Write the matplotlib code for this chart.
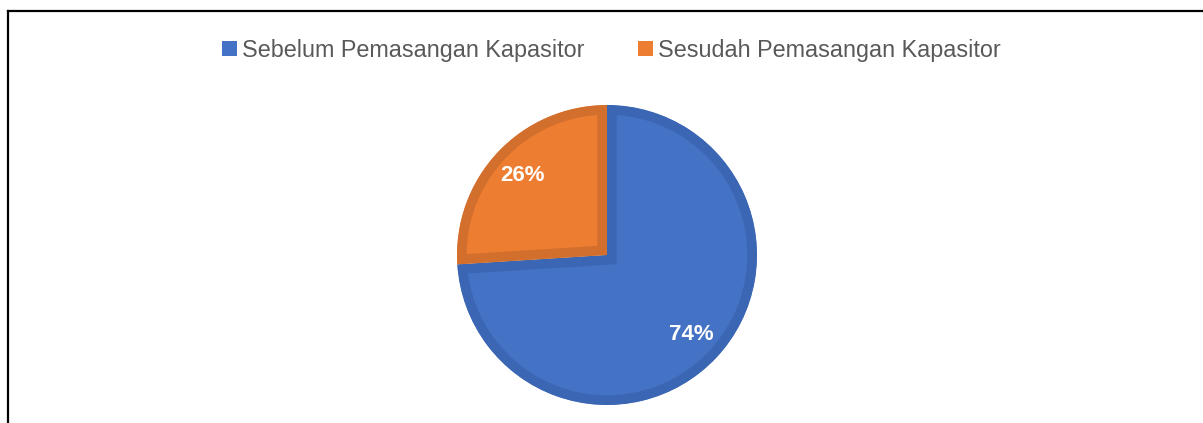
import matplotlib
matplotlib.use("Agg")
import matplotlib.pyplot as plt
from matplotlib.patches import Patch
from matplotlib.lines import Line2D

labels = ["Sebelum Pemasangan Kapasitor", "Sesudah Pemasangan Kapasitor"]
values = [74, 26]
colors = ["#4472C4", "#ED7D31"]
edge_colors = ["#3B66B3", "#D26F2D"]

W, H = 1203, 423
fig = plt.figure(figsize=(W / 100, H / 100), dpi=100)

# pie centre (607, 255) px, outer radius 150 px
cx, cy, r = 607, 255, 150
ax = fig.add_axes([(cx - r) / W, (H - cy - r) / H, 2 * r / W, 2 * r / H])
wedges, _, autotexts = ax.pie(values, colors=colors, startangle=90, counterclock=False,
                              radius=1, autopct="%.0f%%", pctdistance=0.77,
                              wedgeprops=dict(linewidth=14),
                              textprops=dict(color="white", fontsize=16, fontweight="bold",
                                             family="Liberation Sans"))
ax.set_xlim(-1, 1)
ax.set_ylim(-1, 1)
ax.set_aspect("equal")
ax.axis("off")
# outline drawn inside each slice, like Excel
for w, ec in zip(wedges, edge_colors):
    w.set_edgecolor(ec)
    w.set_clip_on(True)
    w.set_clip_path(w.get_path(), w.get_transform())

handles = [Patch(facecolor=c, edgecolor="none") for c in colors]
fig.legend(handles, labels, loc="center", bbox_to_anchor=(611 / W, 1 - 50 / H),
           ncol=2, frameon=False, prop=dict(family="Liberation Sans", size=16.8),
           labelcolor="#595959", handlelength=0.65, handleheight=0.65,
           handletextpad=0.2, columnspacing=2.3)

# frame lines (top and left)
fig.add_artist(Line2D([8 / W, 1.0], [1 - 11 / H, 1 - 11 / H], color="black", lw=1.6))
fig.add_artist(Line2D([8 / W, 8 / W], [0, 1 - 11 / H], color="black", lw=1.6))

fig.savefig("out.png", dpi=100)
